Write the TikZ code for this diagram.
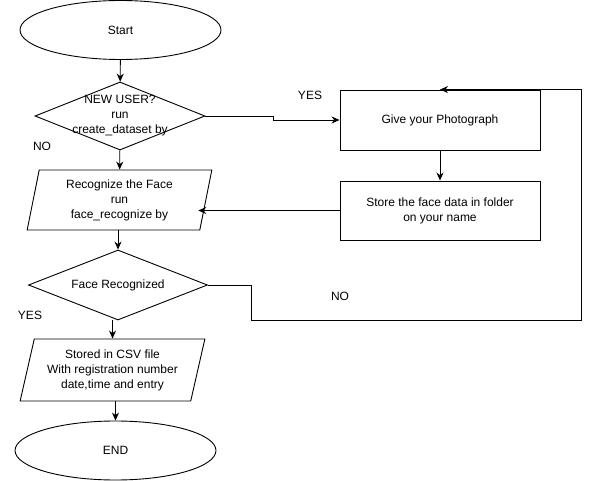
\documentclass[tikz,border=0pt]{standalone}
\usepackage{fontspec}
\setmainfont{Liberation Sans}
\usetikzlibrary{shapes.geometric,arrows.meta}

\begin{document}
\begin{tikzpicture}[x=1pt,y=-1pt,line width=0.9pt,
  every node/.style={font=\fontsize{12pt}{15pt}\selectfont,align=center},
  terminal/.style={draw,ellipse,minimum width=201pt,minimum height=59pt,inner sep=0pt},
  decision/.style={draw,diamond,inner sep=0pt},
  iobox/.style={draw,trapezium,trapezium stretches,minimum width=185pt,inner sep=0pt},
  process/.style={draw,rectangle,minimum width=200pt,minimum height=60pt},
  arr/.style={-{Stealth[length=8pt,width=7pt]}}]
\useasboundingbox (0,0) rectangle (589,481);
% left column
\node[terminal] (start) at (120.5,30) {Start};
\node[decision,minimum width=170pt,minimum height=68pt,
  label={center:NEW USER?\\run\\create\_dataset by}] (newuser) at (120,116) {};
\node[iobox,minimum height=60pt,trapezium left angle=79,trapezium right angle=101] (recog) at (119.5,200)
  {Recognize the Face\\run\\face\_recognize by};
\node[decision,minimum width=179pt,minimum height=70pt,
  label={center:Face Recognized}] (facerec) at (118,285) {};
\node[iobox,minimum height=62pt,trapezium left angle=74,trapezium right angle=106] (csv) at (112.5,370)
  {Stored in CSV file\\With registration number\\date,time and entry};
\node[terminal] (stop) at (115.5,450.5) {END};
% right column
\node[process] (photo) at (440,120) {Give your Photograph};
\node[process,minimum height=59pt] (store) at (440,210.5) {Store the face data in folder\\on your name};
\coordinate (loop) at (581,320);
% labels
\node (yes1) at (310,95) {YES};
\node (no1) at (42,146) {NO};
\node (yes2) at (30,315) {YES};
\node (no2) at (340,296) {NO};
% arrows
\draw[arr] (start) -- (newuser);
\draw[arr] (newuser) -- (recog);
\draw[arr] (recog.south -| facerec.north) -- (facerec.north);
\draw[arr] (facerec.south -| csv.north) -- (csv.north);
\draw[arr] (csv.south -| stop.north) -- (stop.north);
\draw[arr] (newuser.east) -- ++(68,0) |- (photo.west);
\draw[arr] (photo) -- (store);
\draw[arr,shorten >=-8pt] (store.west) -- (store.west -| recog.east);
\draw[arr] (facerec.east) -- ++(43,0) |- (loop) |- (photo.north);
\end{tikzpicture}
\end{document}
